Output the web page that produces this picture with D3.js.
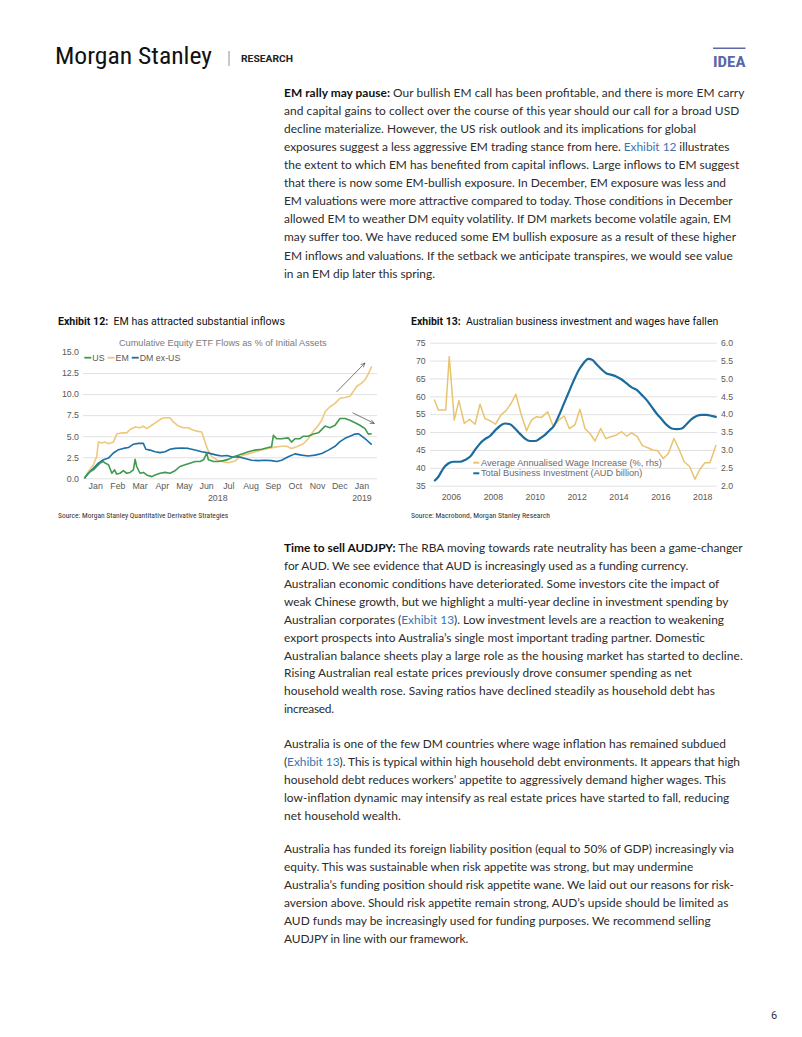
<!DOCTYPE html>
<html><head><meta charset="utf-8">
<script src="https://cdn.jsdelivr.net/npm/d3@7"></script>
<style>
html,body{margin:0;padding:0;background:#fff;}
svg{display:block;}
.body{font-family:Lato,"Open Sans",sans-serif;fill:#2b2b2b;}
.ax text{font-family:"Liberation Sans",Arial,sans-serif;fill:#595959;}
</style></head>
<body>
<svg id="page" width="802" height="1037"></svg>
<script>
// ---------------- DATA ----------------
// Exhibit 12: months since 1 Jan 2018, cumulative flows (% of initial assets)
const monthLabels = ["Jan","Feb","Mar","Apr","May","Jun","Jul","Aug","Sep","Oct","Nov","Dec","Jan"];
const yearLabels12 = [{m:6.0, label:"2018"},{m:12.5, label:"2019"}];
const flowTicks = [0,2.5,5,7.5,10,12.5,15];
const usFlows = [[0.015,0],[0.12,0.4],[0.27,0.8],[0.42,1.0],[0.57,1.4],[0.72,1.8],[0.87,2.0],[0.95,1.8],[1.10,1.6],[1.25,0.6],[1.37,1.0],[1.47,0.5],[1.62,0.6],[1.77,0.9],[1.92,0.6],[2.07,0.7],[2.22,1.0],[2.30,2.25],[2.37,1.4],[2.52,0.6],[2.67,0.7],[2.82,0.4],[3.05,0.2],[3.20,0.4],[3.42,0.6],[3.65,0.7],[3.87,0.6],[4.10,0.9],[4.32,1.4],[4.55,1.6],[4.77,1.8],[5.00,2.0],[5.23,2.0],[5.38,2.2],[5.53,3.0],[5.60,2.2],[5.83,2.0],[6.05,2.0],[6.28,2.1],[6.50,2.25],[6.73,2.55],[6.95,2.75],[7.18,2.95],[7.40,3.15],[7.70,3.35],[8.00,3.45],[8.30,3.65],[8.45,3.75],[8.53,5.1],[8.68,4.7],[8.90,4.7],[9.20,4.8],[9.35,4.3],[9.50,4.7],[9.73,4.7],[9.88,5.0],[10.10,5.0],[10.33,5.25],[10.56,5.4],[10.86,6.2],[11.08,6.0],[11.31,6.3],[11.53,7.1],[11.76,7.1],[11.98,6.9],[12.21,6.6],[12.43,6.3],[12.66,5.9],[12.81,5.25],[12.96,5.3]];
const emFlows = [[0.015,0],[0.195,0.8],[0.42,1.6],[0.57,2.6],[0.645,4.3],[0.80,4.2],[0.95,4.3],[1.10,4.1],[1.32,4.3],[1.47,5.25],[1.70,5.4],[1.92,5.4],[2.07,5.8],[2.30,6.1],[2.52,6.0],[2.67,6.2],[2.82,5.9],[3.05,6.3],[3.27,6.7],[3.50,7.1],[3.65,7.2],[3.87,7.2],[4.02,6.7],[4.25,6.2],[4.47,6.0],[4.70,6.0],[4.85,5.8],[5.08,5.6],[5.30,5.5],[5.45,4.3],[5.57,3.4],[5.75,2.6],[5.98,2.2],[6.20,2.0],[6.50,1.85],[6.80,2.05],[6.95,2.4],[7.18,2.75],[7.40,2.9],[7.70,3.15],[8.00,3.35],[8.30,3.55],[8.60,3.7],[8.90,3.8],[9.13,3.8],[9.35,3.55],[9.58,3.75],[9.88,4.1],[10.10,4.7],[10.33,5.6],[10.56,6.3],[10.71,6.9],[10.86,7.9],[11.08,8.5],[11.31,8.9],[11.53,9.5],[11.76,9.6],[11.98,9.75],[12.13,10.3],[12.28,10.9],[12.51,11.3],[12.66,11.7],[12.81,12.4],[12.96,13.3]];
const dmFlows = [[0.015,0],[0.195,0.6],[0.42,1.2],[0.645,1.8],[0.87,2.2],[1.10,2.4],[1.32,3.0],[1.55,3.4],[1.77,3.55],[2.00,3.65],[2.22,4.05],[2.45,4.15],[2.67,4.15],[2.78,3.45],[2.97,3.35],[3.20,3.15],[3.42,3.05],[3.65,3.15],[3.87,3.45],[4.10,3.55],[4.40,3.6],[4.70,3.55],[5.00,3.35],[5.30,3.15],[5.53,3.05],[5.75,2.9],[5.98,2.75],[6.20,2.65],[6.43,2.7],[6.65,2.55],[6.95,2.55],[7.25,2.35],[7.55,2.15],[7.85,2.1],[8.15,2.15],[8.45,2.1],[8.68,2.0],[8.90,2.15],[9.20,2.55],[9.50,2.9],[9.80,2.75],[10.10,2.65],[10.41,2.75],[10.71,2.95],[11.01,3.35],[11.31,3.8],[11.53,4.35],[11.76,4.75],[11.98,5.0],[12.21,5.25],[12.36,5.3],[12.51,5.0],[12.73,4.55],[12.96,4.0]];
const flowSeries = [
  {name:"US", color:"#3f9a4f", data:usFlows},
  {name:"EM", color:"#f0c87c", data:emFlows},
  {name:"DM ex-US", color:"#1d6fa5", data:dmFlows}
];
const flowArrows = [{from:[11.38,10.26], to:[12.66,13.7]}, {from:[12.10,7.78], to:[13.08,6.51]}];

// Exhibit 13: decimal year, investment (AUD bn, lhs), wage increase (%, rhs)
const yearTicks13 = [2006,2008,2010,2012,2014,2016,2018];
const invTicks = [35,40,45,50,55,60,65,70,75];
const wageTicks = [2.0,2.5,3.0,3.5,4.0,4.5,5.0,5.5,6.0];
const investment = [[2005.20,36.3],[2005.40,37.5],[2005.63,39.8],[2005.87,41.2],[2006.11,41.7],[2006.43,41.7],[2006.67,42.2],[2006.91,43.1],[2007.15,45.0],[2007.39,46.8],[2007.62,48.0],[2007.86,48.9],[2008.10,50.4],[2008.34,51.7],[2008.58,52.4],[2008.82,52.2],[2009.06,51.0],[2009.30,49.5],[2009.53,48.2],[2009.77,47.5],[2010.01,47.5],[2010.25,48.2],[2010.49,49.2],[2010.73,50.6],[2010.89,51.5],[2011.13,54.3],[2011.37,57.6],[2011.60,60.8],[2011.84,64.1],[2012.08,67.1],[2012.32,69.2],[2012.56,70.5],[2012.75,70.2],[2012.96,68.9],[2013.20,67.5],[2013.43,66.4],[2013.67,66.0],[2013.91,65.5],[2014.15,64.7],[2014.39,63.6],[2014.63,62.5],[2014.87,61.8],[2015.11,60.4],[2015.34,59.0],[2015.58,57.1],[2015.82,55.2],[2016.06,53.6],[2016.30,52.0],[2016.54,51.0],[2016.78,50.8],[2017.02,51.0],[2017.25,52.2],[2017.49,53.6],[2017.73,54.5],[2017.97,54.8],[2018.21,54.8],[2018.45,54.5],[2018.69,54.2]];
const wages = [[2005.20,4.41],[2005.40,4.12],[2005.63,4.12],[2005.75,4.12],[2005.92,5.61],[2006.16,3.84],[2006.38,4.38],[2006.64,3.74],[2006.88,3.86],[2007.15,3.72],[2007.39,4.28],[2007.62,3.88],[2007.86,3.82],[2008.13,3.72],[2008.39,3.98],[2008.63,4.10],[2008.87,4.30],[2009.10,4.56],[2009.34,4.02],[2009.61,3.54],[2009.85,3.84],[2010.09,3.93],[2010.33,3.91],[2010.62,4.07],[2010.89,3.65],[2011.16,3.84],[2011.41,3.95],[2011.65,3.60],[2011.92,3.70],[2012.16,4.14],[2012.40,3.60],[2012.64,3.46],[2012.88,3.25],[2013.15,3.60],[2013.39,3.32],[2013.64,3.37],[2013.91,3.42],[2014.15,3.51],[2014.39,3.39],[2014.63,3.48],[2014.90,3.37],[2015.14,3.12],[2015.37,3.07],[2015.63,3.00],[2015.87,2.98],[2016.14,2.76],[2016.38,2.90],[2016.65,3.32],[2016.89,3.02],[2017.14,2.67],[2017.41,2.53],[2017.65,2.18],[2017.89,2.46],[2018.13,2.64],[2018.37,2.64],[2018.66,3.14]];
const legend13 = [
  {name:"Average Annualised Wage Increase (%, rhs)", color:"#e8c46f"},
  {name:"Total Business Investment (AUD billion)", color:"#1b6b9e"}
];

// Text content
const para1 = [
 "**EM rally may pause:** Our bullish EM call has been profitable, and there is more EM carry",
 "and capital gains to collect over the course of this year should our call for a broad USD",
 "decline materialize. However, the US risk outlook and its implications for global",
 "exposures suggest a less aggressive EM trading stance from here. [[Exhibit 12]] illustrates",
 "the extent to which EM has benefited from capital inflows. Large inflows to EM suggest",
 "that there is now some EM-bullish exposure. In December, EM exposure was less and",
 "EM valuations were more attractive compared to today. Those conditions in December",
 "allowed EM to weather DM equity volatility. If DM markets become volatile again, EM",
 "may suffer too. We have reduced some EM bullish exposure as a result of these higher",
 "EM inflows and valuations. If the setback we anticipate transpires, we would see value",
 "in an EM dip later this spring."];
const para2 = [
 "**Time to sell AUDJPY:** The RBA moving towards rate neutrality has been a game-changer",
 "for AUD. We see evidence that AUD is increasingly used as a funding currency.",
 "Australian economic conditions have deteriorated. Some investors cite the impact of",
 "weak Chinese growth, but we highlight a multi-year decline in investment spending by",
 "Australian corporates ([[Exhibit 13]]). Low investment levels are a reaction to weakening",
 "export prospects into Australia\u2019s single most important trading partner. Domestic",
 "Australian balance sheets play a large role as the housing market has started to decline.",
 "Rising Australian real estate prices previously drove consumer spending as net",
 "household wealth rose. Saving ratios have declined steadily as household debt has",
 "increased."];
const para3 = [
 "Australia is one of the few DM countries where wage inflation has remained subdued",
 "([[Exhibit 13]]). This is typical within high household debt environments. It appears that high",
 "household debt reduces workers\u2019 appetite to aggressively demand higher wages. This",
 "low-inflation dynamic may intensify as real estate prices have started to fall, reducing",
 "net household wealth."];
const para4 = [
 "Australia has funded its foreign liability position (equal to 50% of GDP) increasingly via",
 "equity. This was sustainable when risk appetite was strong, but may undermine",
 "Australia\u2019s funding position should risk appetite wane. We laid out our reasons for risk-",
 "aversion above. Should risk appetite remain strong, AUD\u2019s upside should be limited as",
 "AUD funds may be increasingly used for funding purposes. We recommend selling",
 "AUDJPY in line with our framework."];

// ---------------- LAYOUT ----------------
const svg = d3.select("#page");
svg.append("rect").attr("width",802).attr("height",1037).attr("fill","#fff");

// Header
svg.append("text").text("Morgan Stanley").attr("x",55).attr("y",64)
  .attr("font-family","'Liberation Sans Narrow','Roboto Condensed',Roboto,sans-serif")
  .attr("font-size",24).attr("fill","#111")
  .attr("textLength",157).attr("lengthAdjust","spacingAndGlyphs");
svg.append("line").attr("x1",229).attr("x2",229).attr("y1",51).attr("y2",66)
  .attr("stroke","#777").attr("stroke-width",0.8);
svg.append("text").text("RESEARCH").attr("x",241).attr("y",62)
  .attr("font-family","Roboto,sans-serif").attr("font-weight",700).attr("font-size",9)
  .attr("fill","#222").attr("textLength",52).attr("lengthAdjust","spacingAndGlyphs");
svg.append("line").attr("x1",713).attr("x2",745.5).attr("y1",48.3).attr("y2",48.3)
  .attr("stroke","#5b67a6").attr("stroke-width",1.6);
svg.append("text").text("IDEA").attr("x",713).attr("y",66.7)
  .attr("font-family","'Roboto Condensed',Roboto,sans-serif").attr("font-weight",700)
  .attr("font-size",14).attr("fill","#5b67a6")
  .attr("textLength",32.5).attr("lengthAdjust","spacingAndGlyphs");

// Paragraphs
const textX = 284;
const lineEnds = {
  p1:[744.3,739.3,696,729.3,739.3,726,732.7,731,736,732.7,435],
  p2:[742.7,688.3,719.3,728.3,724,705,742.7,691.7,715,334],
  p3:[726,740,726,729.3,400.7],
  p4:[734,693.3,734,728.3,710.7,468.3]
};
const paraDefs = [
  {lines:para1, ends:lineEnds.p1, y0:96.6, lh:18.1},
  {lines:para2, ends:lineEnds.p2, y0:551.8, lh:17.95},
  {lines:para3, ends:lineEnds.p3, y0:747.5, lh:18.0},
  {lines:para4, ends:lineEnds.p4, y0:853.1, lh:17.9}
];
function parseLine(s){
  return s.split(/(\*\*.+?\*\*|\[\[.+?\]\])/).filter(d=>d.length).map(p=>{
    if(p.startsWith("**")) return {t:p.slice(2,-2), b:true};
    if(p.startsWith("[[")) return {t:p.slice(2,-2), l:true};
    return {t:p};
  });
}
const bodyG = svg.append("g").attr("class","body");
let natSum=0, tgtSum=0;
const allTexts=[];
paraDefs.forEach(pd=>{
  pd.lines.forEach((ln,i)=>{
    const t = bodyG.append("text").attr("x",textX).attr("y",pd.y0+i*pd.lh)
      .attr("font-size",13).style("white-space","pre");
    parseLine(ln).forEach(seg=>{
      const ts = t.append("tspan").text(seg.t);
      if(seg.b) ts.attr("font-weight",700).attr("fill","#111");
      if(seg.l) ts.attr("fill","#3a74b3");
    });
    const target = pd.ends[i]-textX;
    if(target>380){ natSum += t.node().getComputedTextLength(); tgtSum += target; }
    allTexts.push({t, target});
  });
});
const fs = 13*tgtSum/natSum;
allTexts.forEach(({t,target})=>{
  t.attr("font-size",fs);
  t.attr("textLength",target).attr("lengthAdjust","spacing");
});

// Page number
svg.append("text").text("6").attr("x",771).attr("y",1019)
  .attr("font-family","Roboto,sans-serif").attr("font-size",11).attr("fill","#333");

// Exhibit titles & sources
function exhibitTitle(x, num, title, width){
  const t = svg.append("text").attr("x",x).attr("y",325).attr("font-family","Roboto,sans-serif")
    .attr("font-size",10.8).attr("fill","#111").style("white-space","pre");
  t.append("tspan").text(num).attr("font-weight",700);
  t.append("tspan").text("  "+title);
  t.attr("textLength",width).attr("lengthAdjust","spacingAndGlyphs");
}
exhibitTitle(58,"Exhibit 12:","EM has attracted substantial inflows",227);
exhibitTitle(411,"Exhibit 13:","Australian business investment and wages have fallen",307.3);
function source(x, s, width){
  svg.append("text").text(s).attr("x",x).attr("y",518.3).attr("font-family","'Roboto Condensed',Roboto,sans-serif")
    .attr("font-size",6.6).attr("fill","#333").attr("textLength",width).attr("lengthAdjust","spacingAndGlyphs");
}
source(58,"Source: Morgan Stanley Quantitative Derivative Strategies",170.3);
source(411,"Source: Macrobond, Morgan Stanley Research",139);

// ---------------- Exhibit 12 chart ----------------
const gridCol = "#d9d9d9";
const x1 = d3.scaleLinear().domain([-0.05,13.2]).range([83,377]);
const y1 = d3.scaleLinear().domain([0,15]).range([478.3,352]);
const c1 = svg.append("g");
c1.append("g").attr("class","ax").attr("transform","translate(83,0)")
  .call(d3.axisLeft(y1).tickValues(flowTicks.slice(0,-1)).tickSize(-(377-83)).tickFormat(""))
  .call(g=>g.select(".domain").remove())
  .call(g=>g.selectAll("line").attr("stroke",gridCol).attr("stroke-width",0.8));
c1.append("g").attr("class","ax").attr("transform","translate(83,0)")
  .call(d3.axisLeft(y1).tickValues(flowTicks).tickSize(0).tickPadding(4).tickFormat(d3.format(".1f")))
  .call(g=>g.select(".domain").remove())
  .call(g=>g.selectAll("text").attr("font-size",8.8));
c1.append("g").attr("class","ax").attr("transform","translate(0,478.3)")
  .call(d3.axisBottom(x1).tickValues(monthLabels.map((d,i)=>i+0.5)).tickSize(0).tickPadding(4.5)
    .tickFormat((d,i)=>monthLabels[i]))
  .call(g=>g.select(".domain").remove())
  .call(g=>g.selectAll("text").attr("font-size",8.8));
c1.append("g").attr("class","ax").attr("transform","translate(0,478.3)")
  .call(d3.axisBottom(x1).tickValues(yearLabels12.map(d=>d.m)).tickSize(0).tickPadding(16)
    .tickFormat((d,i)=>yearLabels12[i].label))
  .call(g=>g.select(".domain").remove())
  .call(g=>g.selectAll("text").attr("font-size",8.8));
const line1 = d3.line().x(d=>x1(d[0])).y(d=>y1(d[1]));
// draw order: EM, DM, US (US over)
[flowSeries[1], flowSeries[2], flowSeries[0]].forEach(s=>{
  c1.append("path").datum(s.data).attr("d",line1).attr("fill","none")
    .attr("stroke",s.color).attr("stroke-width",1.6).attr("stroke-linejoin","round");
});
// chart title
c1.append("text").text("Cumulative Equity ETF Flows as % of Initial Assets")
  .attr("x",222.8).attr("y",345.7).attr("text-anchor","middle")
  .attr("font-family","'Liberation Sans',Arial,sans-serif").attr("font-size",8.6).attr("fill","#7a7a7a")
  .attr("textLength",207.7).attr("lengthAdjust","spacingAndGlyphs");
// legend
let lx = 84.3;
flowSeries.forEach(s=>{
  c1.append("line").attr("x1",lx).attr("x2",lx+7).attr("y1",357.7).attr("y2",357.7)
    .attr("stroke",s.color).attr("stroke-width",1.8);
  const t = c1.append("text").text(s.name).attr("x",lx+8).attr("y",360.8)
    .attr("font-family","'Liberation Sans',Arial,sans-serif").attr("font-size",8.8).attr("fill","#595959");
  lx = lx + 8 + t.node().getComputedTextLength() + 3;
});
// arrows
const defs = svg.append("defs");
defs.append("marker").attr("id","arr").attr("viewBox","0 0 10 10").attr("refX",9).attr("refY",5)
  .attr("markerWidth",6).attr("markerHeight",6).attr("orient","auto")
  .append("path").attr("d","M0,1 L9,5 L0,9").attr("fill","none").attr("stroke","#555").attr("stroke-width",1.4);
flowArrows.forEach(a=>{
  c1.append("line").attr("x1",x1(a.from[0])).attr("y1",y1(a.from[1]))
    .attr("x2",x1(a.to[0])).attr("y2",y1(a.to[1]))
    .attr("stroke","#555").attr("stroke-width",0.8).attr("marker-end","url(#arr)");
});

// ---------------- Exhibit 13 chart ----------------
const x2 = d3.scaleLinear().domain([2005,2018.7]).range([430,716.9]);
const yL = d3.scaleLinear().domain([35,75]).range([485.7,342.7]);
const yR = d3.scaleLinear().domain([2,6]).range([485.7,342.7]);
const c2 = svg.append("g");
c2.append("g").attr("class","ax").attr("transform","translate(430,0)")
  .call(d3.axisLeft(yL).tickValues(invTicks).tickSize(-(716.9-430)).tickFormat(""))
  .call(g=>g.select(".domain").remove())
  .call(g=>g.selectAll("line").attr("stroke",gridCol).attr("stroke-width",0.8));
c2.append("g").attr("class","ax").attr("transform","translate(430,0)")
  .call(d3.axisLeft(yL).tickValues(invTicks).tickSize(0).tickPadding(4.3).tickFormat(d3.format("d")))
  .call(g=>g.select(".domain").remove())
  .call(g=>g.selectAll("text").attr("font-size",8.7));
c2.append("g").attr("class","ax").attr("transform","translate(716.9,0)")
  .call(d3.axisRight(yR).tickValues(wageTicks).tickSize(0).tickPadding(4.1).tickFormat(d3.format(".1f")))
  .call(g=>g.select(".domain").remove())
  .call(g=>g.selectAll("text").attr("font-size",8.7));
c2.append("g").attr("class","ax").attr("transform","translate(0,485.7)")
  .call(d3.axisBottom(x2).tickValues(yearTicks13).tickSize(0).tickPadding(7.8).tickFormat(d3.format("d")))
  .call(g=>g.select(".domain").remove())
  .call(g=>g.selectAll("text").attr("font-size",8.7));
c2.append("path").datum(wages).attr("fill","none").attr("stroke",legend13[0].color)
  .attr("stroke-width",1.5).attr("stroke-linejoin","round")
  .attr("d",d3.line().x(d=>x2(d[0])).y(d=>yR(d[1])));
c2.append("path").datum(investment).attr("fill","none").attr("stroke",legend13[1].color)
  .attr("stroke-width",2.2).attr("stroke-linejoin","round")
  .attr("d",d3.line().curve(d3.curveMonotoneX).x(d=>x2(d[0])).y(d=>yL(d[1])));
// legend
const legW = [180.7,161.3];
legend13.forEach((s,i)=>{
  const ly = 462.7 + i*10.6;
  c2.append("line").attr("x1",473.3).attr("x2",479.3).attr("y1",ly).attr("y2",ly)
    .attr("stroke",s.color).attr("stroke-width",2);
  c2.append("text").text(s.name).attr("x",481).attr("y",ly+3.1)
    .attr("font-family","'Liberation Sans',Arial,sans-serif").attr("font-size",8.8).attr("fill","#6a6a6a")
    .attr("textLength",legW[i]).attr("lengthAdjust","spacingAndGlyphs");
});
</script>
</body></html>
